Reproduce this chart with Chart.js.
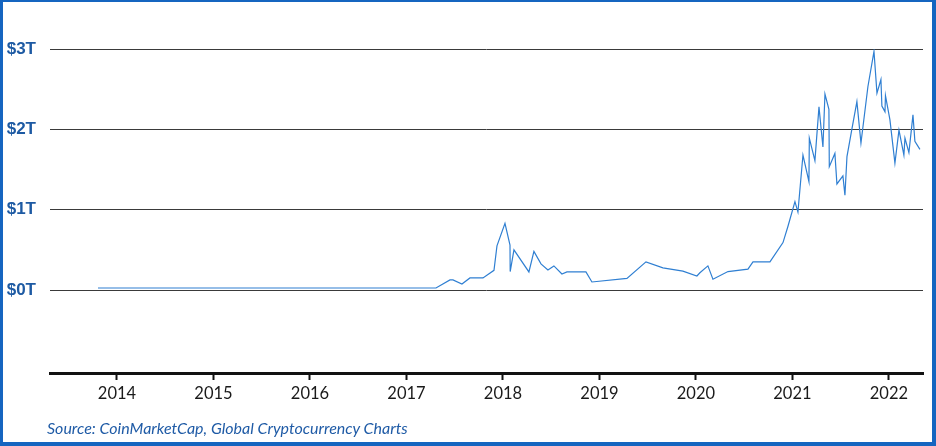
<!DOCTYPE html>
<html>
<head>
<meta charset="utf-8">
<script src="https://cdn.jsdelivr.net/npm/chart.js@4"></script>
<style>
  html, body { margin: 0; padding: 0; background: #fff; }
  #wrap { position: relative; width: 936px; height: 446px; overflow: hidden; background:#fff; }
  #c { position: absolute; left: 0; top: 0; }
  #frame { position: absolute; left: 0; top: 0; width: 936px; height: 446px; box-sizing: border-box;
           border-top: 2px solid #1565c0; border-left: 3px solid #1565c0; border-right: 4px solid #1565c0; border-bottom: 4px solid #1565c0; pointer-events: none; }
  #src { position: absolute; left: 47px; top: 418px; font-family: Lato, "Open Sans", sans-serif; font-style: italic;
         font-size: 16px; color: #1f5ba6; }
</style>
</head>
<body>
<div id="wrap">
  <canvas id="c" width="936" height="446"></canvas>
  <div id="frame"></div>
  <div id="src">Source: CoinMarketCap, Global Cryptocurrency Charts</div>
</div>
<script>
// Time (fractional year) and total crypto market cap (trillions USD)
const years = [
  2013.803, 2017.306, 2017.451, 2017.482, 2017.575, 2017.658, 2017.793, 2017.907, 2017.938, 2018.021,
  2018.073, 2018.075, 2018.114, 2018.269, 2018.321, 2018.394, 2018.466, 2018.528, 2018.611, 2018.663,
  2018.860, 2018.922, 2019.285, 2019.482, 2019.658, 2019.865, 2020.010, 2020.041, 2020.124, 2020.176,
  2020.332, 2020.539, 2020.591, 2020.767, 2020.902, 2020.953, 2021.026, 2021.057, 2021.109, 2021.171,
  2021.175, 2021.233, 2021.275, 2021.316, 2021.337, 2021.378, 2021.382, 2021.440, 2021.461, 2021.523,
  2021.544, 2021.565, 2021.617, 2021.668, 2021.710, 2021.782, 2021.845, 2021.876, 2021.917, 2021.927,
  2021.959, 2021.964, 2022.010, 2022.062, 2022.104, 2022.155, 2022.166, 2022.207, 2022.249, 2022.269,
  2022.321
];
const marketCap = [
  0.025, 0.025, 0.125, 0.125, 0.075, 0.15, 0.15, 0.245, 0.55, 0.83,
  0.56, 0.23, 0.50, 0.225, 0.48, 0.325, 0.25, 0.30, 0.20, 0.225,
  0.225, 0.10, 0.145, 0.35, 0.275, 0.235, 0.175, 0.215, 0.30, 0.135,
  0.23, 0.26, 0.35, 0.35, 0.59, 0.79, 1.10, 0.97, 1.68, 1.35,
  1.89, 1.61, 2.28, 1.78, 2.44, 2.25, 1.535, 1.70, 1.32, 1.42,
  1.18, 1.66, 2.01, 2.345, 1.83, 2.53, 2.97, 2.45, 2.62, 2.29,
  2.22, 2.42, 2.12, 1.58, 1.99, 1.68, 1.89, 1.71, 2.18, 1.85,
  1.75
];
const yTicks = [0, 1, 2, 3];
const xTicks = [2014, 2015, 2016, 2017, 2018, 2019, 2020, 2021, 2022];
const yTickLabels = ['$0T', '$1T', '$2T', '$3T'];

const points = years.map((x, i) => ({ x: x, y: marketCap[i] }));

new Chart(document.getElementById('c'), {
  type: 'line',
  data: {
    datasets: [{
      data: points,
      borderColor: '#2f7fd2',
      borderWidth: 1.2,
      pointRadius: 0,
      tension: 0,
      fill: false
    }]
  },
  options: {
    responsive: false,
    devicePixelRatio: 1,
    animation: false,
    layout: { padding: { top: 49, right: 13, left: 0, bottom: 0 } },
    plugins: { legend: { display: false }, tooltip: { enabled: false } },
    scales: {
      x: {
        type: 'linear',
        min: 2013.306,
        max: 2022.353,
        afterBuildTicks: s => { s.ticks = xTicks.map(v => ({ value: v })); },
        afterFit: s => { s.height = 73; },
        ticks: {
          callback: v => String(v),
          color: '#1a1a1a',
          font: { family: 'Lato, "Open Sans", sans-serif', size: 16.5 },
          padding: 4,
          maxRotation: 0,
          autoSkip: false
        },
        grid: { drawOnChartArea: false, drawTicks: true, tickLength: 7, tickWidth: 2, tickColor: '#111' },
        border: { display: true, color: '#111', width: 3 }
      },
      y: {
        min: -1.033,
        max: 3,
        afterBuildTicks: s => { s.ticks = yTicks.map(v => ({ value: v })); },
        afterFit: s => { s.width = 50; },
        ticks: {
          callback: v => yTickLabels[yTicks.indexOf(v)],
          color: '#1d5aa3',
          font: { family: '"Liberation Sans", Arial, sans-serif', size: 17, weight: 'bold' },
          padding: 14
        },
        grid: { color: '#3a3a3a', lineWidth: 1, drawTicks: false },
        border: { display: false }
      }
    }
  }
});
</script>
</body>
</html>
